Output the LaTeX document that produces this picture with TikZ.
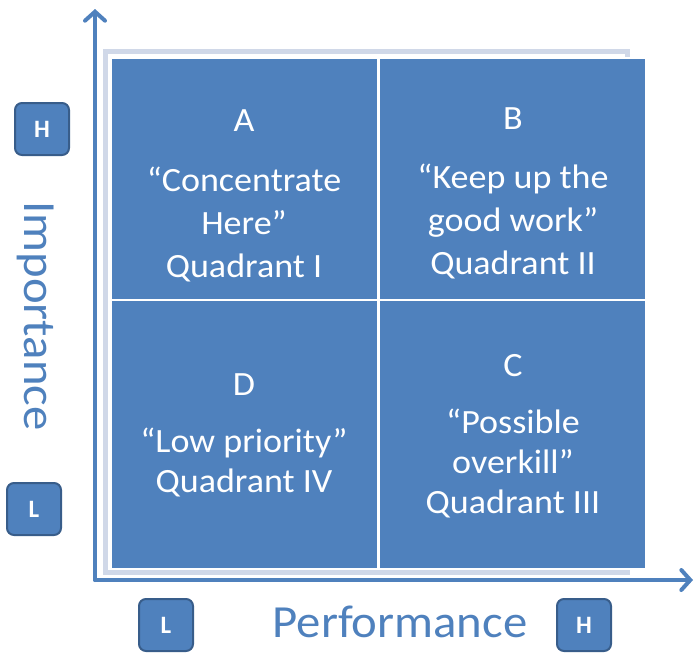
\documentclass[tikz,border=0pt]{standalone}
\usepackage{fontspec}
\setmainfont{Carlito}
\newfontfamily\quadfont[FakeStretch=1.06]{Carlito}
\usetikzlibrary{arrows.meta}
\definecolor{quadblue}{HTML}{4F81BD}
\definecolor{boxedge}{HTML}{385D8A}
\definecolor{framegray}{HTML}{D0D8E8}

\begin{document}
\begin{tikzpicture}[x=1pt, y=-1pt,
    quad/.style = {draw=white, line width=2.5pt, fill=quadblue, minimum width=268pt},
    qtext/.style = {text=white, align=center, anchor=base, font=\quadfont\fontsize{34}{43}\selectfont},
    lvl/.style = {draw=boxedge, line width=2pt, fill=quadblue, rounded corners=7pt, minimum width=54pt, minimum height=52pt, text=white, font=\bfseries\fontsize{25}{27}\selectfont},
    axislabel/.style = {text=quadblue, font=\quadfont\fontsize{46}{50}\selectfont},
    axis/.style = {draw=quadblue, line width=4pt, line cap=round, -{Straight Barb[length=9pt,width=20pt,line cap=round]}}]

    \useasboundingbox (0,0) rectangle (696,654);

    \draw[framegray, line width=5pt] (105.5,51) rectangle (627,572);

    \node[quad, minimum height=242pt] (qa) at (244.5,179) {};
    \node[quad, minimum height=242pt] (qb) at (512.5,179) {};
    \node[quad, minimum height=269pt] (qd) at (244.5,434.5) {};
    \node[quad, minimum height=269pt] (qc) at (512.5,434.5) {};

    \node[qtext] (ta) at (244,277) {A\\[17pt]“Concentrate\\Here”\\Quadrant I};
    \node[qtext] (tb) at (513,274) {B\\[16pt]“Keep up the\\good work”\\Quadrant II};
    \node[qtext, font=\quadfont\fontsize{34}{39.5}\selectfont] (td) at (244,492) {D\\[18pt]“Low priority”\\Quadrant IV};
    \node[qtext, font=\quadfont\fontsize{34}{40}\selectfont] (tc) at (513,513) {C\\[17pt]“Possible\\overkill”\\Quadrant III};

    \coordinate (origin) at (95,580);
    \coordinate (ytip) at (95,9);
    \coordinate (xtip) at (693,580);
    \draw[axis] (origin) -- (ytip);
    \draw[axis] (origin) -- (xtip);

    \node[lvl] (hy) at (42,129) {H};
    \node[lvl] (ly) at (34,509) {L};
    \node[lvl] (lx) at (166,625) {L};
    \node[lvl] (hx) at (584,625) {H};

    \node[axislabel, rotate=-90] (imp) at (36,316) {Importance};
    \node[axislabel] (perf) at (400,622) {Performance};

\end{tikzpicture}
\end{document}
